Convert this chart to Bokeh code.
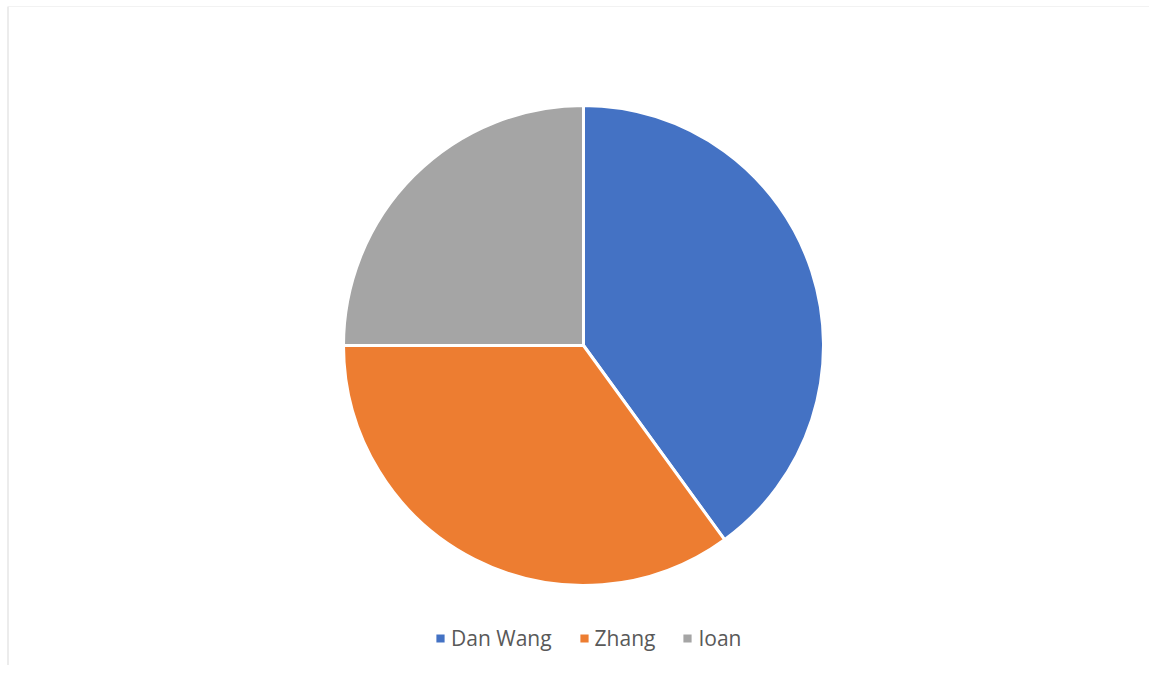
import math
from bokeh.plotting import figure
from bokeh.models import ColumnDataSource, Legend, LegendItem, Span
from bokeh.embed import file_html
from bokeh.resources import INLINE

names = ["Dan Wang", "Zhang", "Ioan"]
values = [40, 35, 25]
colors = ["#4472C4", "#ED7D31", "#A5A5A5"]

total = sum(values)
starts, ends = [], []
acc = 0.0
for v in values:
    s = math.pi / 2 - 2 * math.pi * acc / total
    acc += v
    e = math.pi / 2 - 2 * math.pi * acc / total
    starts.append(s)
    ends.append(e)

W, H = 1149, 665
BL, BT = 7, 6
FW, FH = W - BL, H - BT
p = figure(width=W, height=H, output_backend="svg", toolbar_location=None,
           x_range=(0, FW), y_range=(0, FH),
           min_border_left=BL, min_border_top=BT, min_border_right=0, min_border_bottom=0)
p.axis.visible = False
p.grid.visible = False
p.outline_line_color = None
p.background_fill_color = "white"
p.border_fill_color = "white"

p.add_layout(Span(location=0, dimension="height", line_color="#D9D9D9", line_width=2))
p.add_layout(Span(location=FH, dimension="width", line_color="#E6E6E6", line_width=1))

cx, cy, r = 576, 320, 240
items = []
for i in range(len(names)):
    src = ColumnDataSource(dict(x=[cx], y=[cy], s=[starts[i]], e=[ends[i]]))
    rr = p.wedge(x="x", y="y", radius=r, start_angle="s", end_angle="e",
                 direction="clock", fill_color=colors[i], line_color="white",
                 line_width=3, source=src)
    items.append(LegendItem(label=names[i], renderers=[rr]))

legend = Legend(items=items, orientation="horizontal", location=(426, 13),
                border_line_color=None, background_fill_alpha=0,
                glyph_width=14, glyph_height=14, label_standoff=4, spacing=25,
                label_text_font="Open Sans", label_text_font_size="21px",
                label_text_color="#595959", margin=0, padding=0)
p.add_layout(legend)

open("out.html", "w").write(file_html(p, INLINE))
